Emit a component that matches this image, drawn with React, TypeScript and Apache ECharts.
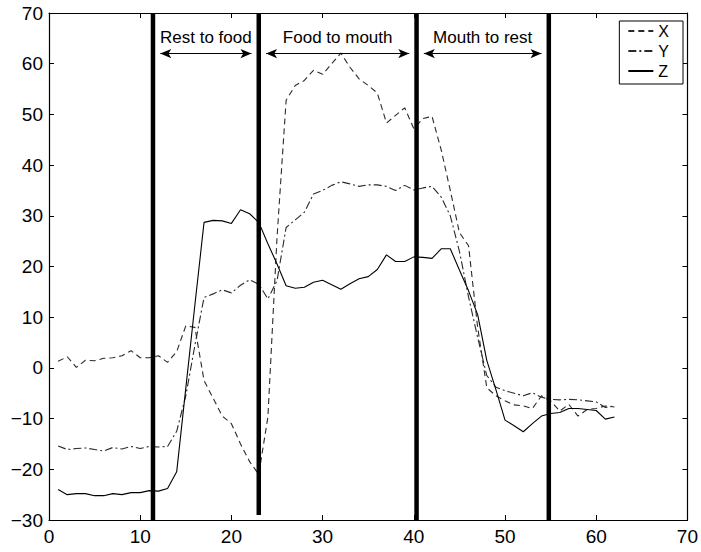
import React, { useEffect, useRef } from "react";
import * as echarts from "echarts";

const samples: number[] = Array.from({ length: 62 }, (_, i) => i + 1);

const xValues: number[] = [
  1.3, 2.2, 0.1, 1.5, 1.4, 1.9, 2.0, 2.4, 3.4, 2.0,
  2.0, 2.4, 1.1, 3.2, 8.3, 8.0, -2.5, -6.0, -9.5, -11.0,
  -15.0, -18.5, -21.0, -9.7, 25.7, 52.8, 55.7, 56.7, 58.7, 57.9,
  60.0, 62.1, 59.3, 57.0, 55.7, 54.2, 48.3, 49.8, 51.3, 47.2,
  49.2, 49.6, 43.0, 35.0, 26.7, 24.1, 8.0, -3.9, -5.5, -6.5,
  -7.3, -7.5, -8.0, -5.5, -6.5, -8.5, -7.2, -9.5, -8.2, -8.0,
  -7.5, -7.7,
];

const yValues: number[] = [
  -15.4, -16.1, -15.9, -15.8, -16.1, -16.4, -15.7, -16.0, -15.5, -15.9,
  -15.5, -15.6, -15.5, -12.5, -5.5, 4.5, 13.9, 14.6, 15.4, 14.8,
  16.3, 17.4, 16.5, 13.6, 17.2, 27.7, 29.2, 30.7, 34.3, 35.0,
  36.0, 36.7, 36.3, 35.8, 36.1, 36.1, 35.8, 35.0, 36.0, 35.1,
  35.5, 35.8, 33.7, 30.0, 23.0, 14.0, 6.0, -1.5, -3.8, -4.5,
  -5.0, -5.5, -4.9, -5.8, -6.2, -6.3, -6.2, -6.3, -6.5, -6.7,
  -7.8, -7.5,
];

const zValues: number[] = [
  -24.0, -25.0, -24.8, -24.8, -25.2, -25.2, -24.8, -25.0, -24.6, -24.6,
  -24.2, -24.3, -23.8, -20.5, -4.0, 12.5, 28.7, 29.1, 29.0, 28.5,
  31.2, 30.4, 28.7, 24.5, 20.5, 16.2, 15.7, 15.9, 16.9, 17.3,
  16.4, 15.5, 16.6, 17.6, 18.0, 19.4, 22.3, 21.0, 21.0, 21.9,
  21.8, 21.6, 23.5, 23.5, 19.3, 15.2, 10.5, 1.5, -4.3, -10.3,
  -11.4, -12.6, -11.0, -9.5, -9.0, -8.8, -8.0, -8.0, -8.2, -8.4,
  -10.1, -9.7,
];

const boundaries: number[] = [11.4, 23.0, 40.3, 54.8];
const boundaryBottoms: number[] = [-30, -29, -30, -30];
const phaseNames: string[] = ["Rest to food", "Food to mouth", "Mouth to rest"];
const arrowLevel = 62;
const arrowInset = 0.8;

const xTicks = { min: 0, max: 70, interval: 10 };
const yTicks = { min: -30, max: 70, interval: 10 };

const FONT = "'Liberation Sans', Arial, Helvetica, sans-serif";

export default function App() {
  const ref = useRef<HTMLDivElement>(null);
  useEffect(() => {
    if (!ref.current) return;
    const chart = echarts.init(ref.current, undefined, { renderer: "svg" });
    const pairs = (vals: number[]) => samples.map((s, i) => [s, vals[i]]);
    const minusFmt = (v: number) => (v < 0 ? "\u2212" + Math.abs(v) : String(v));

    const boundarySeries = boundaries.map((b, i) => ({
      type: "line",
      name: "b" + i,
      data: [
        [b, yTicks.max],
        [b, boundaryBottoms[i]],
      ],
      symbol: "none",
      silent: true,
      lineStyle: { color: "#000", width: 4.5 },
      z: 5,
    }));

    const arrowData = phaseNames.map((n, i) => [
      { name: n, coord: [boundaries[i] + arrowInset, arrowLevel] },
      { coord: [boundaries[i + 1] - arrowInset, arrowLevel] },
    ]);

    const lineCommon = {
      type: "line",
      symbol: "none",
      showSymbol: false,
      silent: true,
      z: 3,
    };

    chart.setOption({
      animation: false,
      backgroundColor: "#fff",
      grid: { left: 49, right: 13, top: 13, bottom: 32, containLabel: false },
      legend: {
        data: ["X", "Y", "Z"],
        orient: "vertical",
        right: 18,
        top: 21,
        itemWidth: 25,
        itemHeight: 14,
        itemGap: 4,
        padding: [2, 14, 5, 8],
        borderColor: "#000",
        borderWidth: 1,
        backgroundColor: "#fff",
        selectedMode: false,
        itemStyle: { opacity: 0 },
        textStyle: { fontFamily: FONT, fontSize: 16, color: "#000" },
      },
      xAxis: [
        {
          type: "value",
          ...xTicks,
          position: "bottom",
          axisLine: { show: true, onZero: false, lineStyle: { color: "#000", width: 1.2 } },
          axisTick: { show: true, inside: true, length: 5, lineStyle: { color: "#000" } },
          axisLabel: { fontFamily: FONT, fontSize: 19, color: "#000", margin: 7 },
          splitLine: { show: false },
        },
        {
          type: "value",
          ...xTicks,
          position: "top",
          axisLine: { show: true, onZero: false, lineStyle: { color: "#000", width: 1.2 } },
          axisTick: { show: true, inside: true, length: 5, lineStyle: { color: "#000" } },
          axisLabel: { show: false },
          splitLine: { show: false },
        },
      ],
      yAxis: [
        {
          type: "value",
          ...yTicks,
          position: "left",
          axisLine: { show: true, onZero: false, lineStyle: { color: "#000", width: 1.2 } },
          axisTick: { show: true, inside: true, length: 5, lineStyle: { color: "#000" } },
          axisLabel: { fontFamily: FONT, fontSize: 19, color: "#000", margin: 6, formatter: minusFmt },
          splitLine: { show: false },
        },
        {
          type: "value",
          ...yTicks,
          position: "right",
          axisLine: { show: true, onZero: false, lineStyle: { color: "#000", width: 1.2 } },
          axisTick: { show: true, inside: true, length: 5, lineStyle: { color: "#000" } },
          axisLabel: { show: false },
          splitLine: { show: false },
        },
      ],
      series: [
        {
          ...lineCommon,
          name: "X",
          data: pairs(xValues),
          color: "#2a2a2a",
          lineStyle: { color: "#2a2a2a", width: 1.1, type: [6, 4] },
        },
        {
          ...lineCommon,
          name: "Y",
          data: pairs(yValues),
          color: "#2a2a2a",
          lineStyle: { color: "#2a2a2a", width: 1.1, type: [8, 3, 2, 3] },
        },
        {
          ...lineCommon,
          name: "Z",
          data: pairs(zValues),
          color: "#000",
          lineStyle: { color: "#000", width: 1.1, type: "solid" },
        },
        ...boundarySeries,
        {
          type: "line",
          name: "phases",
          data: [],
          symbol: "none",
          silent: true,
          markLine: {
            silent: true,
            animation: false,
            symbol: ["arrow", "arrow"],
            symbolSize: [7, 11],
            lineStyle: { color: "#000", width: 1.2, type: "solid" },
            itemStyle: { color: "#000" },
            label: {
              show: true,
              position: "middle",
              formatter: "{b}",
              fontFamily: FONT,
              fontSize: 17,
              color: "#000",
              distance: 8,
            },
            emphasis: { disabled: true },
            data: arrowData,
          },
        },
      ],
    });
    return () => chart.dispose();
  }, []);
  return (
    <div
      ref={ref}
      style={{ position: "fixed", left: 0, top: 0, width: 701, height: 552 }}
    />
  );
}
